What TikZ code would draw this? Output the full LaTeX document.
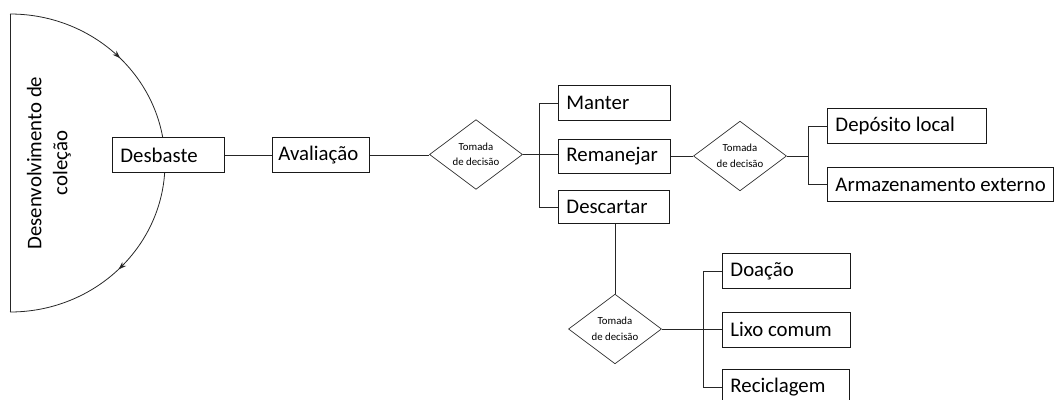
\documentclass[tikz,border=0pt]{standalone}
\usepackage{fontspec}
\setmainfont{Carlito}
\usetikzlibrary{shapes.geometric,decorations.markings,arrows.meta}
\newcommand{\bt}[2]{\makebox[#1][l]{\hspace{8pt}#2}}
\tikzset{
  bx/.style={draw=black!90, line width=0.9pt, inner xsep=0pt, inner ysep=0pt,
    minimum height=35pt, anchor=north west, font=\fontsize{20.8}{25}\selectfont},
  dia/.style={draw=black!80, line width=0.7pt, shape=diamond, inner sep=0pt,
    minimum width=93pt, minimum height=68pt, align=center,
    font=\fontsize{10.8}{15.5}\selectfont},
  ln/.style={draw=black!85, line width=0.8pt},
}
\begin{document}
\begin{tikzpicture}[x=1pt,y=-1pt]
\useasboundingbox (0,0) rectangle (1054,399);
% semicircle
\draw[ln, postaction={decorate}, decoration={markings,
   mark=at position 0.255 with {\arrow{Stealth[length=8pt,width=5.5pt]}},
   mark=at position 0.75 with {\arrow{Stealth[length=8pt,width=5.5pt]}}}]
  (10,14) arc[start angle=90, end angle=-90, x radius=155, y radius=-149];
\draw[ln] (10,14) -- (10,312);
\node[rotate=90, align=center, font=\fontsize{20.8}{26}\selectfont] (dev) at (49,163) {Desenvolvimento de\\coleção};
% boxes
\node[bx, fill=white] (desb) at (112,137) {\bt{112pt}{Desbaste}};
\node[bx] (aval) at (272,137) {\makebox[97pt][l]{\hspace{6pt}Avaliação}};
\node[dia] (d1) at (476,154.5) {Tomada\\de decisão};
\node[bx] (manter) at (558,85) {\bt{112pt}{Manter}};
\node[bx, minimum height=34pt] (reman) at (558,139) {\bt{112pt}{Remanejar}};
\node[bx, minimum height=33pt] (desc) at (558,190) {\bt{111pt}{Descartar}};
\node[dia] (d2) at (740,156) {Tomada\\de decisão};
\node[bx] (dep) at (827,108) {\bt{159pt}{Depósito local}};
\node[bx, minimum height=34pt] (arm) at (827,167) {\bt{226pt}{Armazenamento externo}};
\node[dia] (d3) at (615,329) {Tomada\\de decisão};
\node[bx] (doa) at (722,253) {\bt{128pt}{Doação}};
\node[bx] (lixo) at (722,311.5) {\bt{128pt}{Lixo comum}};
\node[bx] (reci) at (722,369) {\bt{127pt}{Reciclagem}};
% bus coordinates
\coordinate (b1) at (539,155);
\coordinate (b2) at (808,155);
\coordinate (b3) at (703,329);
% connectors
\draw[ln] (desb.east) -- (desb.east -| aval.west);
\draw[ln] (aval.east) -- (aval.east -| d1.west);
\draw[ln] (d1.east) -- (d1.east -| reman.west);
\draw[ln] (manter.west) -- (manter.west -| b1) -- (desc.west -| b1) -- (desc.west);
\draw[ln] (reman.east) -- (reman.east -| d2.west);
\draw[ln] (d2.east) -- (d2.east -| b2);
\draw[ln] (dep.west) -- (dep.west -| b2) -- (arm.west -| b2) -- (arm.west);
\draw[ln] (d3.north |- desc.south) -- (d3.north);
\draw[ln] (d3.east) -- (d3.east -| lixo.west);
\draw[ln] (doa.west) -- (doa.west -| b3) -- (reci.west -| b3) -- (reci.west);
\end{tikzpicture}
\end{document}
